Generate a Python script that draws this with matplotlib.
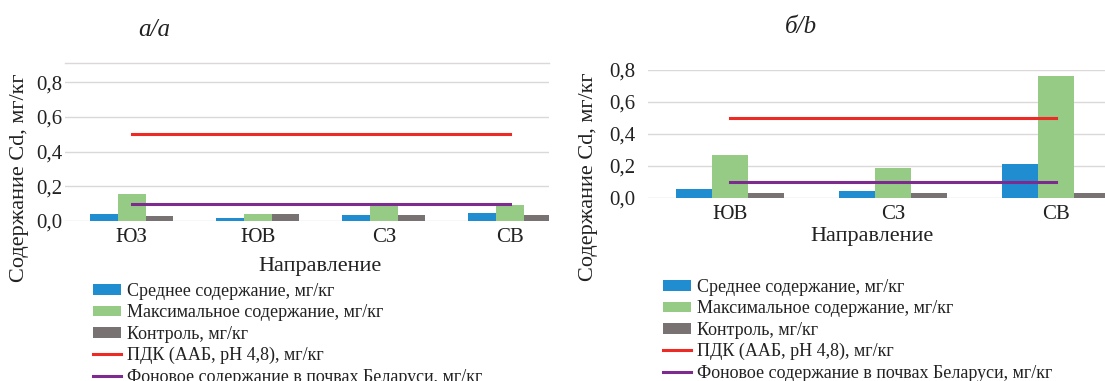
import numpy as np
import matplotlib
matplotlib.use("Agg")
from matplotlib import pyplot as plt
from matplotlib import rcParams

rcParams.update({"font.family": "serif",
                 "font.serif": ["Liberation Serif", "DejaVu Serif"],
                 "text.color": "#222222",
                 "xtick.color": "#222222",
                 "ytick.color": "#222222"})

W, H = 1105, 381

# панель а/a
cats_a = ["ЮЗ", "ЮВ", "СЗ", "СВ"]
mean_a = [0.04, 0.02, 0.035, 0.048]
max_a = [0.155, 0.04, 0.092, 0.095]
ctrl_a = [0.03, 0.038, 0.035, 0.035]
pdk_a = [0.5, 0.5, 0.5, 0.5]
fon_a = [0.1, 0.1, 0.1, 0.1]

# панель б/b
cats_b = ["ЮВ", "СЗ", "СВ"]
mean_b = [0.056, 0.045, 0.21]
max_b = [0.27, 0.19, 0.76]
ctrl_b = [0.03, 0.03, 0.03]
pdk_b = [0.5, 0.5, 0.5]
fon_b = [0.1, 0.1, 0.1]

yticks = [0.0, 0.2, 0.4, 0.6, 0.8]
ytick_labels = ["0,0", "0,2", "0,4", "0,6", "0,8"]

labels = ["Среднее содержание, мг/кг",
          "Максимальное содержание, мг/кг",
          "Контроль, мг/кг",
          "ПДК (ААБ, pH 4,8), мг/кг",
          "Фоновое содержание в почвах Беларуси, мг/кг"]

c_blue = "#1f8dd0"
c_green = "#95cb85"
c_gray = "#797272"
c_red = "#ee2a24"
c_purple = "#7d2b8f"
c_grid = "#dcd8d8"

tickSize = 15
labelSize = 16
legendSize = 13


def px(x0, y_top, x1, y_bot):
    # пиксели -> доли фигуры
    return [x0 / W, 1 - y_bot / H, (x1 - x0) / W, (y_bot - y_top) / H]


def drawPanel(ax, cats, mean, mx, ctrl, pdk, fon, ylim, xlim, ypad):
    x = np.arange(len(cats))
    w = 0.22
    ax.bar(x - w, mean, width=w, color=c_blue, zorder=2, label=labels[0])
    ax.bar(x, mx, width=w, color=c_green, zorder=2, label=labels[1])
    ax.bar(x + w, ctrl, width=w, color=c_gray, zorder=2, label=labels[2])
    ax.plot(x, pdk, color=c_red, linewidth=2.2, zorder=3, label=labels[3])
    ax.plot(x, fon, color=c_purple, linewidth=2.2, zorder=3, label=labels[4])

    ax.set_ylim(*ylim)
    ax.set_xlim(*xlim)
    ax.set_yticks(yticks)
    ax.set_yticklabels(ytick_labels)
    ax.set_xticks(x)
    ax.set_xticklabels(cats)
    ax.tick_params(axis="both", length=0, labelsize=tickSize)
    ax.tick_params(axis="y", pad=ypad)
    ax.tick_params(axis="x", pad=5)
    ax.grid(axis="y", color=c_grid, linewidth=1.0, zorder=0)
    for s in ["left", "right", "bottom"]:
        ax.spines[s].set_visible(False)
    ax.spines["top"].set_color(c_grid)
    ax.spines["top"].set_linewidth(1.0)


fig = plt.figure(figsize=(W / 100, H / 100), dpi=100)

ax1 = fig.add_axes(px(65, 63, 549, 221))
drawPanel(ax1, cats_a, mean_a, max_a, ctrl_a, pdk_a, fon_a, (0, 0.91), (-0.53, 3.31), 2)

ax2 = fig.add_axes(px(648, 70, 1138, 198))
drawPanel(ax2, cats_b, mean_b, max_b, ctrl_b, pdk_b, fon_b, (0, 0.8), (-0.5, 2.5), 9)
ax2.spines["top"].set_visible(False)

# подписи
fig.text(154 / W, 1 - 30 / H, "а/a", style="italic", fontsize=18, ha="center", va="center")
fig.text(801 / W, 1 - 27 / H, "б/b", style="italic", fontsize=18, ha="center", va="center")

fig.text(320 / W, 1 - 266 / H, "Направление", fontsize=labelSize, ha="center", va="center")
fig.text(872 / W, 1 - 237 / H, "Направление", fontsize=labelSize, ha="center", va="center")

fig.text(20 / W, 1 - 178 / H, "Содержание Cd, мг/кг", fontsize=labelSize,
         rotation=90, ha="center", va="center")
fig.text(589 / W, 1 - 177 / H, "Содержание Cd, мг/кг", fontsize=labelSize,
         rotation=90, ha="center", va="center")

# легенды
legendFont = {"size": legendSize}
order = [2, 3, 4, 0, 1]
for ax, anchor in [(ax1, (93, 283)), (ax2, (663, 279))]:
    h, l = ax.get_legend_handles_labels()
    fig.legend([h[i] for i in order], [l[i] for i in order], loc="upper left",
               bbox_to_anchor=(anchor[0] / W, 1 - anchor[1] / H), frameon=False,
               prop=legendFont, borderpad=0, borderaxespad=0, labelspacing=0.24,
               handlelength=1.55, handleheight=0.55, handletextpad=0.35)

plt.savefig("out.png", dpi=100)
plt.close()
